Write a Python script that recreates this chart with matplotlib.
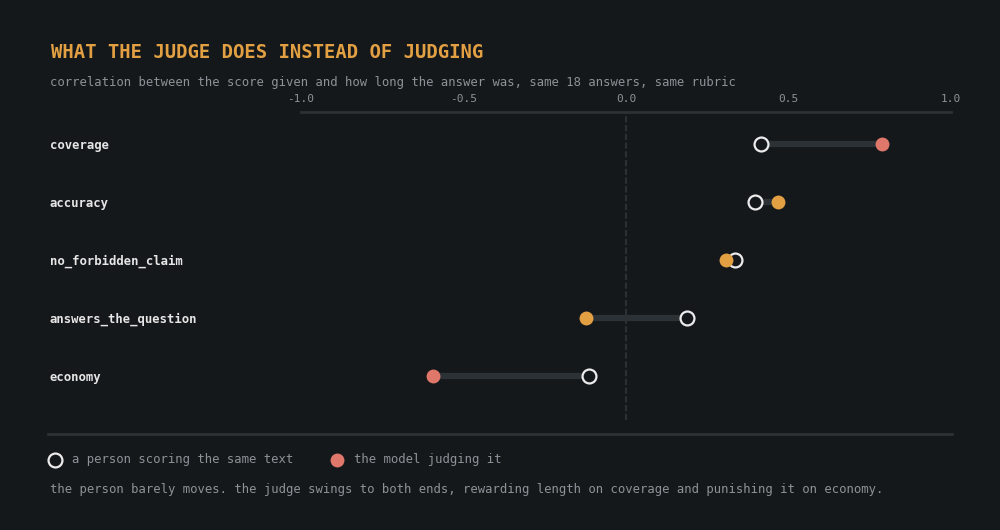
import matplotlib
matplotlib.use('Agg')

import matplotlib.pyplot as plt
from matplotlib.lines import Line2D
from matplotlib.transforms import blended_transform_factory, offset_copy

# data
criteria = ["coverage", "accuracy", "no_forbidden_claim", "answers_the_question", "economy"]
person_r = [0.415, 0.397, 0.335, 0.188, -0.114]
model_r = [0.788, 0.468, 0.308, -0.123, -0.594]
x_ticks = [-1.0, -0.5, 0.0, 0.5, 1.0]
x_tick_labels = ["-1.0", "-0.5", "0.0", "0.5", "1.0"]

BG = "#15181b"
RULE = "#2c3136"
TEXT = "#e6e6e6"
MUTED = "#8d9298"
ORANGE = "#e3a043"
RED = "#e0776b"
FONT = "DejaVu Sans Mono"

W, H = 1000, 530
plt.rcParams['font.family'] = [FONT, 'DejaVu Sans']

fig = plt.figure(figsize=(W / 100, H / 100), dpi=100, facecolor=BG)


def fx(px):
    return px / W


def fy(py):
    return 1 - py / H


# plot area: x from 301px to 951px, y from 112px to 420px
ax = fig.add_axes([fx(301), fy(420), fx(650), (420 - 112) / H])
ax.set_facecolor(BG)
ax.set_xlim(-1.0, 1.0)
row_gap = 58
ax.set_ylim((420 - 144) / row_gap, (112 - 144) / row_gap)

for side in ["left", "right", "bottom"]:
    ax.spines[side].set_visible(False)
ax.spines["top"].set_color(RULE)
ax.spines["top"].set_linewidth(2)

ax.xaxis.tick_top()
ax.set_xticks(x_ticks)
ax.set_xticklabels(x_tick_labels, fontsize=8, color=MUTED)
ax.tick_params(axis="x", length=0, pad=6)
ax.set_yticks([])

# zero reference
ax.axvline(0, color="#2b3034", linewidth=1.5, linestyle=(0, (3, 1.2)), zorder=1)

label_tf = offset_copy(blended_transform_factory(fig.transFigure, ax.transData),
                       fig=fig, y=-1, units="dots")
for i, name in enumerate(criteria):
    p, m = person_r[i], model_r[i]
    mcol = RED if abs(m) >= 0.5 else ORANGE
    ax.plot([p, m], [i, i], color=RULE, linewidth=4.5, solid_capstyle="butt", zorder=2)
    ax.plot(p, i, marker="o", markersize=10, markerfacecolor=BG,
            markeredgecolor="#ececec", markeredgewidth=1.6, zorder=3)
    ax.plot(m, i, marker="o", markersize=10, markerfacecolor=mcol,
            markeredgewidth=0, zorder=4)
    ax.text(fx(50), i, name, transform=label_tf, ha="left", va="center",
            fontsize=8.8, fontweight="bold", color=TEXT)

# title and subtitle
fig.text(fx(51), fy(58), "WHAT THE JUDGE DOES INSTEAD OF JUDGING", ha="left", va="baseline",
         fontsize=13.6, fontweight="bold", color=ORANGE)
fig.text(fx(50), fy(86),
         "correlation between the score given and how long the answer was, same 18 answers, same rubric",
         ha="left", va="baseline", fontsize=8.8, color=MUTED)

# bottom rule
fig.add_artist(Line2D([fx(48), fx(952)], [fy(434), fy(434)], color=RULE, linewidth=2,
                      transform=fig.transFigure))

# legend
fig.add_artist(Line2D([fx(55)], [fy(460)], marker="o", markersize=10, markerfacecolor=BG,
                      markeredgecolor="#ececec", markeredgewidth=1.6, transform=fig.transFigure))
fig.text(fx(72), fy(460), "a person scoring the same text", ha="left", va="center",
         fontsize=8.8, color=MUTED)
fig.add_artist(Line2D([fx(337)], [fy(460)], marker="o", markersize=10, markerfacecolor=RED,
                      markeredgewidth=0, transform=fig.transFigure))
fig.text(fx(354), fy(460), "the model judging it", ha="left", va="center",
         fontsize=8.8, color=MUTED)

# footer note
fig.text(fx(50), fy(490),
         "the person barely moves. the judge swings to both ends, rewarding length on coverage and punishing it on economy.",
         ha="left", va="center", fontsize=8.8, color=MUTED)

fig.savefig("out.png", dpi=100, facecolor=BG)
plt.close(fig)
